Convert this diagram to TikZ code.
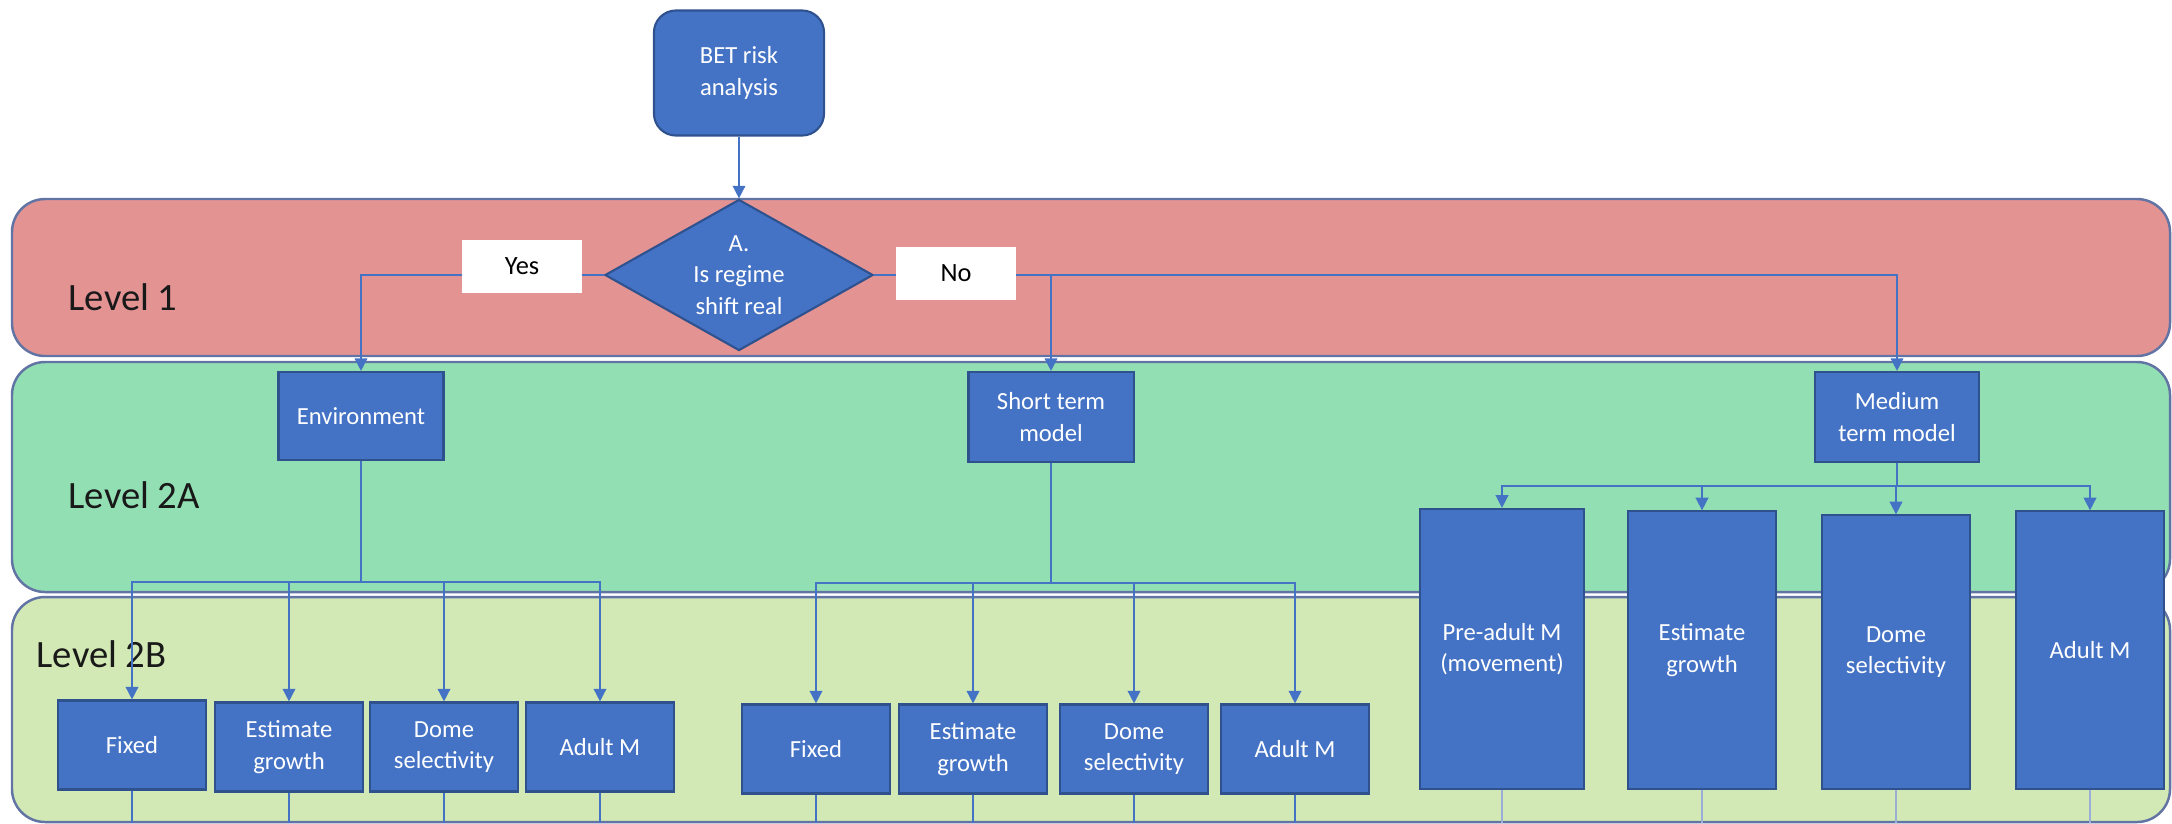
\documentclass[tikz,border=0pt]{standalone}
\usepackage{fontspec}
\setmainfont{Carlito}
\usetikzlibrary{shapes.geometric,arrows.meta}
\definecolor{boxblue}{HTML}{4472C4}
\definecolor{boxedge}{HTML}{2F528F}
\definecolor{bandedge}{HTML}{6274A4}
\definecolor{levelone}{HTML}{E49393}
\definecolor{leveltwoa}{HTML}{93DFB4}
\definecolor{leveltwob}{HTML}{D2E9B5}
\definecolor{faintline}{HTML}{9AAED6}
\begin{document}
\begin{tikzpicture}[x=0.01cm, y=-0.01cm,
  box/.style={draw=boxedge, line width=0.6pt, fill=boxblue, text=white, align=center, inner sep=1pt, font=\fontsize{7}{9}\selectfont},
  small/.style={box, minimum width=1.48cm, minimum height=0.89cm},
  tall/.style={box, minimum width=1.48cm, minimum height=2.77cm},
  band/.style={draw=bandedge, line width=0.7pt, rounded corners=0.33cm},
  lvl/.style={anchor=base west, inner sep=0pt, font=\fontsize{11}{13}\selectfont, text=black!90},
  answer/.style={fill=white, font=\fontsize{7.5}{9}\selectfont, minimum width=1.2cm, minimum height=0.53cm},
  flow/.style={draw=boxblue, line width=0.45pt, -{Triangle[length=3.6pt,width=3.6pt]}},
  link/.style={draw=boxblue, line width=0.45pt}]
\useasboundingbox (0,0) rectangle (2172,823);
\draw[band, fill=levelone] (12,199) rectangle (2170,356);
\draw[band, fill=leveltwoa] (12,362) rectangle (2170,592);
\draw[band, fill=leveltwob] (12,597) rectangle (2170,822);
\node[lvl] (lvlone) at (68,310) {Level 1};
\node[lvl] (lvltwoa) at (68,508) {Level 2A};
\node[lvl] (lvltwob) at (36,667) {Level 2B};

\node[box, rounded corners=0.22cm, minimum width=1.70cm, minimum height=1.25cm] (bet) at (739,73) {BET risk\\analysis};
\node[box, diamond, shape aspect=1.77, minimum width=2.68cm, minimum height=1.51cm, inner sep=0pt] (regime) at (739,275) {A.\\Is regime\\shift real};

\node[box, minimum width=1.65cm, minimum height=0.88cm] (env) at (361,416) {Environment};
\node[box, minimum width=1.65cm, minimum height=0.90cm] (st) at (1051,417) {Short term\\model};
\node[box, minimum width=1.64cm, minimum height=0.90cm] (mt) at (1897,417) {Medium\\term model};

\node[small] (fixA) at (132,745) {Fixed};
\node[small] (growA) at (289,747) {Estimate\\growth};
\node[small] (domeA) at (444,747) {Dome\\selectivity};
\node[small] (adultA) at (600,747) {Adult M};

\node[small] (fixB) at (816,749) {Fixed};
\node[small] (growB) at (973,749) {Estimate\\growth};
\node[small] (domeB) at (1134,749) {Dome\\selectivity};
\node[small] (adultB) at (1295,749) {Adult M};

\node[tall, minimum width=1.64cm, minimum height=2.80cm] (preC) at (1502,649) {Pre-adult M\\(movement)};
\node[tall] (growC) at (1702,650) {Estimate\\growth};
\node[tall, minimum height=2.73cm] (domeC) at (1896,652) {Dome\\selectivity};
\node[tall] (adultC) at (2090,650) {Adult M};

\draw[flow] (bet) -- (regime);
\draw[flow] (regime.west) -| (env.north);
\draw[flow] (regime.east) -| (mt.north);
\draw[flow] (regime.east -| st) -- (st.north);

\coordinate (envsplit) at (env.south |- 0,582);
\draw[link] (env.south) -- (envsplit);
\foreach \t in {fixA,growA,domeA,adultA}
  \draw[flow] (envsplit) -| (\t.north);

\coordinate (stsplit) at (st.south |- 0,583);
\draw[link] (st.south) -- (stsplit);
\foreach \t in {fixB,growB,domeB,adultB}
  \draw[flow] (stsplit) -| (\t.north);

\coordinate (mtsplit) at (mt.south |- 0,486);
\draw[link] (mt.south) -- (mtsplit);
\foreach \t in {preC,growC,domeC,adultC}
  \draw[flow] (mtsplit) -| (\t.north);

\foreach \t in {fixA,growA,domeA,adultA,fixB,growB,domeB,adultB}
  \draw[link] (\t.south) -- (\t.south |- 0,823);
\foreach \t in {preC,growC,domeC,adultC}
  \draw[link, draw=faintline] (\t.south) -- (\t.south |- 0,823);

\node[answer] (yes) at (522,266) {Yes};
\node[answer] (no) at (956,273) {No};
\end{tikzpicture}
\end{document}
